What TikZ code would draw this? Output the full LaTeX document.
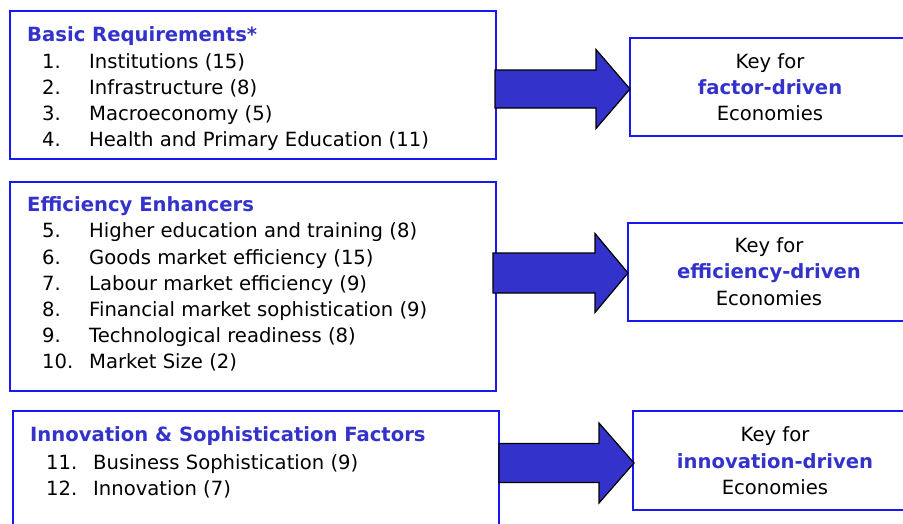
\documentclass[tikz,border=0pt]{standalone}
\usepackage{fontspec}
\setmainfont{DejaVu Sans}
\usetikzlibrary{calc}
\definecolor{frameblue}{RGB}{24,24,240}
\definecolor{titleblue}{RGB}{51,51,204}
\definecolor{arrowblue}{RGB}{51,51,204}
\tikzset{
  framebox/.style={draw=frameblue, line width=1.6pt, anchor=north west, inner sep=0pt},
  title/.style={anchor=base west, inner sep=0pt, font=\fontsize{19.6}{20}\selectfont\bfseries, text=titleblue},
  num/.style={anchor=base west, inner sep=0pt, font=\fontsize{19.6}{20}\selectfont},
  item/.style={anchor=base west, inner sep=0pt, font=\fontsize{19.6}{20}\selectfont},
  keytext/.style={anchor=base, inner sep=0pt, font=\fontsize{19.6}{20}\selectfont},
  keybold/.style={anchor=base, inner sep=0pt, font=\fontsize{19.6}{20}\selectfont\bfseries, text=titleblue},
  blockarrow/.style={fill=arrowblue, draw=black, line width=1.2pt, line join=miter},
}
% block arrow: tail point, tip point, shaft half-height, head half-height, head length
\newcommand\drawblockarrow[5]{%
  \draw[blockarrow]
    ($(#1)+(0,-#3)$) -- ($(#2)+(-#5,0)+(0,-#3)$) -- ($(#2)+(-#5,0)+(0,-#4)$)
    -- (#2) -- ($(#2)+(-#5,0)+(0,#4)$) -- ($(#2)+(-#5,0)+(0,#3)$)
    -- ($(#1)+(0,#3)$) -- cycle;}
\begin{document}
\begin{tikzpicture}[x=1pt,y=-1pt]
\useasboundingbox (0,0) rectangle (903,523);
\fill[white] (0,0) rectangle (903,523);

% ---------- left boxes ----------
\node[framebox, minimum width=486pt, minimum height=148pt] (b1) at (9,10) {};
\node[framebox, minimum width=486pt, minimum height=209pt] (b2) at (9,181) {};
\node[framebox, minimum width=486pt, minimum height=130pt] (b3) at (12,410) {};

% ---------- key boxes ----------
\node[framebox, minimum width=280pt, minimum height=98pt] (k1) at (629,37) {};
\node[framebox, minimum width=282pt, minimum height=98pt] (k2) at (627,222) {};
\node[framebox, minimum width=277pt, minimum height=99pt] (k3) at (632,410) {};

% ---------- block arrows ----------
\coordinate (a1tail) at (495,89);  \coordinate (a1tip) at (630,89);
\coordinate (a2tail) at (493,273); \coordinate (a2tip) at (628,273);
\coordinate (a3tail) at (499,463); \coordinate (a3tip) at (634,463);
\drawblockarrow{a1tail}{a1tip}{19}{39.5}{34}
\drawblockarrow{a2tail}{a2tip}{20}{39.5}{33}
\drawblockarrow{a3tail}{a3tip}{19.5}{40}{35}

% ---------- basic requirements ----------
\node[title] (t1) at (27,41) {Basic Requirements*};
\node[num] (n1) at (42,68)  {1.};  \node[item] (i1) at (89,68)  {Institutions (15)};
\node[num] (n2) at (42,94)  {2.};  \node[item] (i2) at (89,94)  {Infrastructure (8)};
\node[num] (n3) at (42,120) {3.};  \node[item] (i3) at (89,120) {Macroeconomy (5)};
\node[num] (n4) at (42,146) {4.};  \node[item] (i4) at (89,146) {Health and Primary Education (11)};

% ---------- efficiency enhancers ----------
\node[title] (t2) at (27,211) {Efficiency Enhancers};
\node[num] (n5)  at (42,237) {5.};  \node[item] (i5)  at (89,237) {Higher education and training (8)};
\node[num] (n6)  at (42,264) {6.};  \node[item] (i6)  at (89,264) {Goods market efficiency (15)};
\node[num] (n7)  at (42,290) {7.};  \node[item] (i7)  at (89,290) {Labour market efficiency (9)};
\node[num] (n8)  at (42,316) {8.};  \node[item] (i8)  at (89,316) {Financial market sophistication (9)};
\node[num] (n9)  at (42,342) {9.};  \node[item] (i9)  at (89,342) {Technological readiness (8)};
\node[num] (n10) at (42,368) {10.}; \node[item] (i10) at (89,368) {Market Size (2)};

% ---------- innovation factors ----------
\node[title] (t3) at (30,441) {Innovation \& Sophistication Factors};
\node[num] (n11) at (46,469) {11.}; \node[item] (i11) at (93,469) {Business Sophistication (9)};
\node[num] (n12) at (46,495) {12.}; \node[item] (i12) at (93,495) {Innovation (7)};

% ---------- key texts ----------
\node[keytext] (k1a) at (770,68)  {Key for};
\node[keybold] (k1b) at (770,94)  {factor-driven};
\node[keytext] (k1c) at (770,120) {Economies};

\node[keytext] (k2a) at (769,252) {Key for};
\node[keybold] (k2b) at (769,278) {efficiency-driven};
\node[keytext] (k2c) at (769,305) {Economies};

\node[keytext] (k3a) at (775,441) {Key for};
\node[keybold] (k3b) at (775,468) {innovation-driven};
\node[keytext] (k3c) at (775,494) {Economies};
\end{tikzpicture}
\end{document}
